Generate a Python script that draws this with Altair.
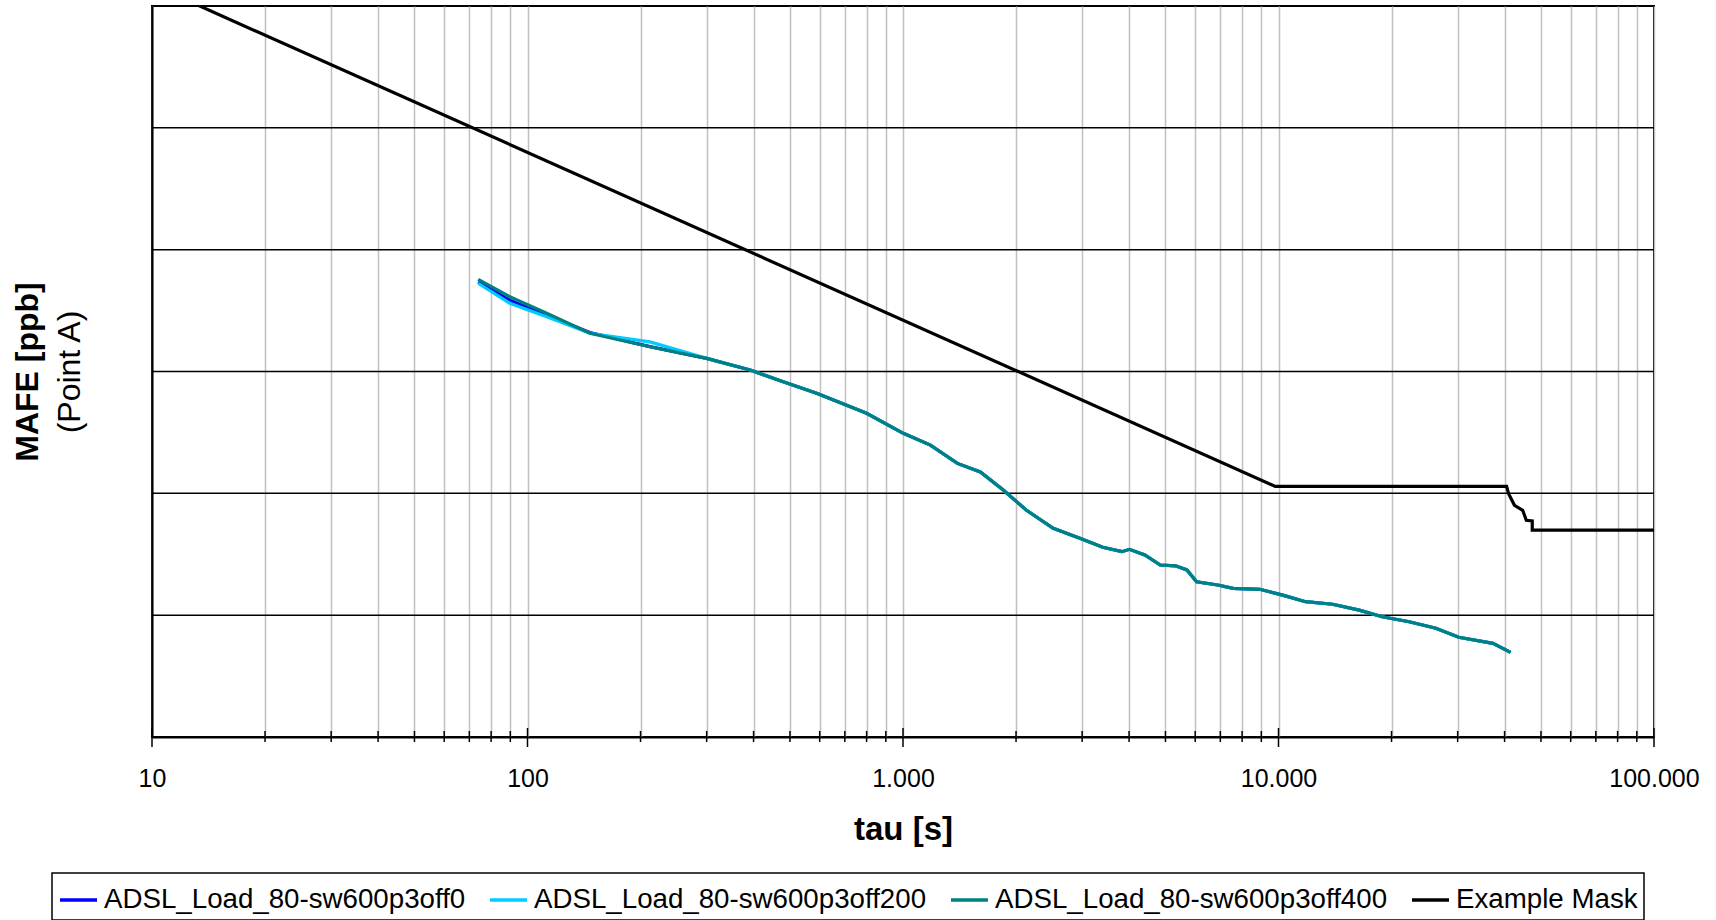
import altair as alt
import pandas as pd

# Averaging interval tau [s] shared by the three measurement runs
tau = [73.9, 89.7, 112.5, 146.6, 211.8, 299.9, 391.7, 479.7, 588.8, 799.8,
       1002, 1183, 1396, 1607, 1849, 2128, 2512, 2958, 3404, 3828,
       4009, 4406, 4842, 5321, 5702, 6053, 6887, 7568, 8913, 10257,
       11803, 13932, 16406, 18880, 22284, 26242, 30200, 37239, 41495]

# MAFE [ppb] per run
off0 = [54.5, 38.5, 29.0, 20.9, 16.0, 12.82, 10.28, 8.24, 6.62, 4.54,
        3.11, 2.49, 1.76, 1.50, 1.064, 0.730, 0.516, 0.428, 0.361, 0.332,
        0.347, 0.312, 0.258, 0.254, 0.235, 0.188, 0.177, 0.166, 0.163, 0.146,
        0.129, 0.123, 0.110, 0.0970, 0.0883, 0.0780, 0.0658, 0.0587, 0.0495]
off200 = [53.0, 36.3, 28.2, 20.6, 17.5, 12.82, 10.28, 8.24, 6.62, 4.54,
          3.11, 2.49, 1.76, 1.50, 1.064, 0.730, 0.516, 0.428, 0.361, 0.332,
          0.347, 0.312, 0.258, 0.254, 0.235, 0.188, 0.177, 0.166, 0.163, 0.146,
          0.129, 0.123, 0.110, 0.0970, 0.0883, 0.0780, 0.0658, 0.0587, 0.0495]
off400 = [57.1, 41.1, 30.1, 20.6, 15.96, 12.82, 10.28, 8.24, 6.62, 4.54,
          3.11, 2.49, 1.76, 1.50, 1.064, 0.730, 0.516, 0.428, 0.361, 0.332,
          0.347, 0.312, 0.258, 0.254, 0.235, 0.188, 0.177, 0.166, 0.163, 0.146,
          0.129, 0.123, 0.110, 0.0970, 0.0883, 0.0780, 0.0658, 0.0587, 0.0495]

# Example mask
mask_tau = [10, 9800, 40500, 41000, 42500, 44700, 45700, 47400, 47400, 100000]
mask_val = [14962, 1.14, 1.14, 0.993, 0.798, 0.726, 0.601, 0.593, 0.498, 0.498]

series_names = ["ADSL_Load_80-sw600p3off0", "ADSL_Load_80-sw600p3off200",
                "ADSL_Load_80-sw600p3off400", "Example Mask"]
series_colors = ["#0000FF", "#00CCFF", "#008080", "#000000"]

# Axis ticks and gridlines
x_decades = [10, 100, 1000, 10000, 100000]
x_minor = [m * d for d in [10, 100, 1000, 10000] for m in range(2, 10)]
x_grid = sorted(x_decades + x_minor)
y_grid = [0.1, 1, 10, 100, 1000]

W, H = 1502, 731

xscale = alt.Scale(type="log", domain=[10, 100000], nice=False)
yscale = alt.Scale(type="log", domain=[0.01, 10000], nice=False)
cscale = alt.Scale(domain=series_names, range=series_colors)

label_expr = ("indexof(" + str(x_decades) + ", datum.value) >= 0 ? "
              "replace(format(datum.value, ','), ',', '.') : ''")

xaxis = alt.Axis(values=x_grid, grid=True, gridColor="#c0c0c0", gridWidth=1.5,
                 ticks=False, domain=True, domainColor="black", domainWidth=2,
                 labelExpr=label_expr, labelFontSize=25, labelFont="Liberation Sans",
                 labelColor="black", labelPadding=29, labelFlush=False,
                 labelOverlap=False, title="tau [s]", titleFontSize=33,
                 titleFont="Liberation Sans", titleFontWeight="bold",
                 titleColor="black", titlePadding=22)
yaxis = alt.Axis(labels=False, ticks=False, grid=False, domain=True,
                 domainColor="black", domainWidth=2, title=None)

legend = alt.Legend(orient="none", legendX=-100, legendY=867, direction="horizontal",
                    title=None, symbolType="stroke", symbolStrokeWidth=3.5,
                    symbolSize=1369, labelFontSize=27.7, labelFont="Liberation Sans",
                    labelColor="black", labelOffset=5, labelLimit=1000,
                    columnPadding=17, padding=6, strokeColor="black",
                    fillColor="white")


def series_df(xs, ys, name):
    return pd.DataFrame({"tau": xs, "mafe": ys, "idx": range(len(xs)),
                         "series": name})


def line_layer(df, clip=False):
    return alt.Chart(df).mark_line(strokeWidth=3.2, clip=clip).encode(
        x=alt.X("tau:Q", scale=xscale, axis=xaxis),
        y=alt.Y("mafe:Q", scale=yscale, axis=yaxis),
        order="idx:Q",
        color=alt.Color("series:N", scale=cscale, legend=legend),
    )


grid_h = alt.Chart(pd.DataFrame({"v": y_grid})).mark_rule(
    color="black", strokeWidth=1.5).encode(y=alt.Y("v:Q", scale=yscale, axis=yaxis))

minor_ticks = alt.Chart(pd.DataFrame({"t": x_minor})).mark_rule(
    color="black", strokeWidth=1.5).encode(
    x=alt.X("t:Q", scale=xscale, axis=xaxis),
    y=alt.value(H - 6), y2=alt.value(H + 5))
major_ticks = alt.Chart(pd.DataFrame({"t": x_decades})).mark_rule(
    color="black", strokeWidth=1.5).encode(
    x=alt.X("t:Q", scale=xscale, axis=xaxis),
    y=alt.value(H - 9), y2=alt.value(H + 10))

ytitle1 = alt.Chart(pd.DataFrame({"t": ["MAFE [ppb]"]})).mark_text(
    angle=270, fontSize=32, fontWeight="bold", font="Liberation Sans",
    align="center", baseline="middle", color="black").encode(
    x=alt.value(-124), y=alt.value(366), text="t:N")
ytitle2 = alt.Chart(pd.DataFrame({"t": ["(Point A)"]})).mark_text(
    angle=270, fontSize=32, font="Liberation Sans",
    align="center", baseline="middle", color="black").encode(
    x=alt.value(-82), y=alt.value(366), text="t:N")

chart = alt.layer(
    grid_h,
    line_layer(series_df(tau, off0, series_names[0])),
    line_layer(series_df(tau, off200, series_names[1])),
    line_layer(series_df(tau, off400, series_names[2])),
    line_layer(series_df(mask_tau, mask_val, series_names[3]), clip=True),
    minor_ticks,
    major_ticks,
    ytitle1,
    ytitle2,
).properties(
    width=W, height=H,
    padding={"left": 152, "top": 6, "right": 62, "bottom": 183},
    autosize=alt.AutoSizeParams(type="none"),
    background="white",
).configure_view(
    stroke="black", strokeWidth=2
).configure_legend(
    strokeWidth=1.5
)

chart.save("out.html", embed_options={"renderer": "svg", "actions": False})
